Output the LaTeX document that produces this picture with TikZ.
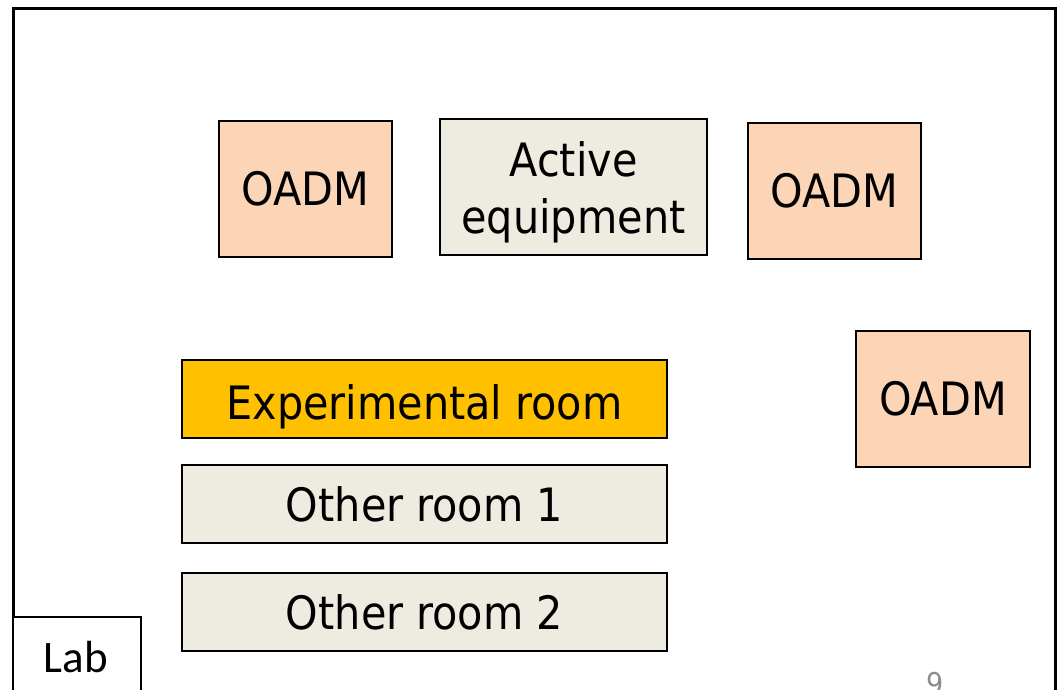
\documentclass[tikz,border=0pt]{standalone}
\usepackage{fontspec}
\setmainfont{DejaVu Sans Condensed}
\newfontfamily\labfont{Carlito}
\definecolor{peach}{HTML}{FBD5B5}
\definecolor{paper}{HTML}{EEECE1}
\definecolor{amber}{HTML}{FFC000}
\definecolor{pagenum}{HTML}{8C8C8C}
\begin{document}
\begin{tikzpicture}[x=1pt,y=-1pt,
  box/.style={draw=black,line width=2pt,inner sep=0pt,align=center,font=\fontsize{46}{52}\selectfont},
  oadm/.style={box,fill=peach},
  room/.style={box,fill=paper},
  boxtext/.style={inner sep=0pt,align=center,font=\fontsize{46}{52}\selectfont}]
\useasboundingbox (0,0) rectangle (1063,690);
% outer frame of the lab floor
\draw[line width=3pt] (13,720) -- (13,9) -- (1055,9) -- (1055,720);
% equipment row
\node[oadm,minimum width=173pt,minimum height=136pt] (oadm1) at (305.5,189) {OADM};
\node[room,minimum width=267pt,minimum height=136pt] (active) at (573.5,187) {};
\node[boxtext] (activetxt) at (573.5,192) {Active\\[5pt]equipment};
\node[oadm,minimum width=173pt,minimum height=136pt] (oadm2) at (834.5,191) {OADM};
\node[oadm,minimum width=174pt,minimum height=136pt] (oadm3) at (943,399) {OADM};
% rooms
\node[box,fill=amber,minimum width=485pt,minimum height=78pt] (exp) at (424.5,399) {};
\node[boxtext,anchor=base] (exptxt) at (424.5,419) {Experimental room};
\node[room,minimum width=485pt,minimum height=78pt] (other1) at (424.5,504) {Other room 1};
\node[room,minimum width=485pt,minimum height=78pt] (other2) at (424.5,612) {Other room 2};
% label box
\node[draw=black,line width=1.5pt,fill=white,minimum width=128pt,minimum height=110pt,anchor=north west,inner sep=0pt] (lab) at (12,616) {};
\node[font=\labfont\fontsize{45}{50}\selectfont,anchor=base] (labtxt) at (76,672) {Lab};
\node[font=\fontsize{30}{34}\selectfont,text=pagenum,anchor=base] (pg) at (935,694) {9};
\end{tikzpicture}
\end{document}
